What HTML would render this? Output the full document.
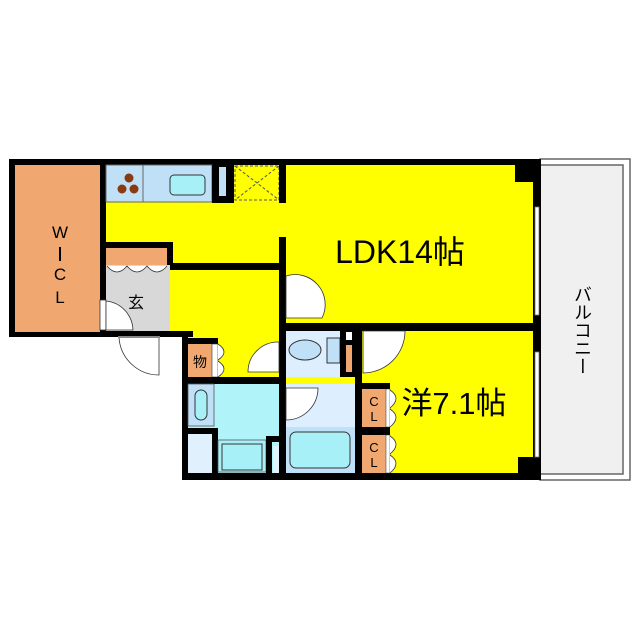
<!DOCTYPE html>
<html><head><meta charset="utf-8"><style>html,body{margin:0;padding:0;background:#fff;width:640px;height:640px;overflow:hidden}</style></head>
<body>
<svg width="640" height="640" viewBox="0 0 640 640" xmlns="http://www.w3.org/2000/svg" font-family="Liberation Sans, Noto Sans CJK JP, sans-serif">
<!-- balcony -->
<rect x="540" y="159" width="90" height="321" fill="#fff" stroke="#666" stroke-width="1.5"/>
<rect x="540" y="165" width="83" height="309" fill="#f0f0f0" stroke="#666" stroke-width="1.5"/>
<text x="582" y="285" font-size="18" fill="#000" style="writing-mode:vertical-rl">バルコニー</text>
<!-- yellow main -->
<rect x="106" y="165" width="430" height="172" fill="#ffff00"/>
<rect x="182" y="330" width="354" height="145" fill="#ffff00"/>
<rect x="9" y="159" width="97" height="178" fill="#000"/>
<!-- outer walls -->
<rect x="100" y="159" width="440" height="6" fill="#000"/>
<rect x="533" y="159" width="8" height="321" fill="#000"/>
<rect x="182" y="473" width="359" height="7" fill="#000"/>
<rect x="182" y="332" width="6" height="148" fill="#000"/>
<rect x="100" y="331" width="93" height="6" fill="#000"/>
<!-- WCL -->
<rect x="15" y="165" width="85" height="167" fill="#f0a870"/>
<text x="60" y="238" font-size="17" text-anchor="middle">W</text>
<rect x="59" y="247" width="2" height="14" fill="#000"/>
<text x="60" y="280" font-size="17" text-anchor="middle">C</text>
<text x="60" y="303" font-size="17" text-anchor="middle">L</text>
<!-- kitchen -->
<rect x="106" y="165" width="106" height="37" fill="#c0e0f8" stroke="#666" stroke-width="1"/>
<line x1="143" y1="165" x2="143" y2="202" stroke="#666"/>
<circle cx="129" cy="178" r="4.5" fill="#8a3a10"/>
<circle cx="122" cy="189" r="4.5" fill="#8a3a10"/>
<circle cx="134" cy="189" r="4.5" fill="#8a3a10"/>
<rect x="170" y="175" width="35" height="20" rx="4" fill="#a8f0f8" stroke="#333"/>
<rect x="212" y="165" width="22" height="38" fill="#000"/>
<rect x="219" y="167" width="7" height="29" fill="#c0e0f8"/>
<rect x="235" y="166" width="44" height="34" fill="none" stroke="#555" stroke-dasharray="3,2"/>
<line x1="235" y1="166" x2="279" y2="200" stroke="#555" stroke-dasharray="3,2"/>
<line x1="279" y1="166" x2="235" y2="200" stroke="#555" stroke-dasharray="3,2"/>
<rect x="279" y="165" width="7" height="38" fill="#000"/>
<rect x="279" y="237" width="7" height="243" fill="#000"/>
<!-- genkan -->
<rect x="106" y="242" width="67" height="6" fill="#000"/>
<rect x="167" y="242" width="6" height="28" fill="#000"/>
<rect x="167" y="263" width="119" height="7" fill="#000"/>
<rect x="106" y="248" width="61" height="17" fill="#f0a870"/>
<rect x="106" y="265" width="64" height="66" fill="#d8d8d8"/>
<path d="M107 266 q10 12 20 0 q10 12 20 0 q10 12 20 0" fill="#fff" stroke="#333" stroke-width="0.8"/>
<text x="136" y="308" font-size="16" text-anchor="middle">玄</text>
<rect x="100" y="300" width="6" height="30" fill="#fff" stroke="#333" stroke-width="0.8"/>
<path d="M106 301 A30 30 0 0 1 133 330 L106 330 Z" fill="#fff" stroke="#333" stroke-width="0.8"/>
<path d="M159 337 L159 375 A40 40 0 0 1 119 337 Z" fill="#fff" stroke="#333" stroke-width="0.8"/>
<line x1="118" y1="337" x2="160" y2="337" stroke="#888" stroke-width="2"/>
<!-- storage -->
<rect x="182" y="338" width="36" height="6" fill="#000"/>
<rect x="188" y="344" width="24" height="33" fill="#f0a870"/>
<text x="200" y="367" font-size="14" text-anchor="middle">物</text>
<rect x="212" y="344" width="6" height="33" fill="#fff" stroke="#333" stroke-width="0.6"/>
<path d="M218 344 q12 8 0 16 M218 361 q12 8 0 16" fill="#fff" stroke="#333" stroke-width="0.8"/>
<path d="M279 342 A30 30 0 0 0 248 372 L279 372 Z" fill="#fff" stroke="#333" stroke-width="0.8"/>
<path d="M286 276 A30 30 0 0 1 322 318 L286 318 Z" fill="#fff" stroke="#333" stroke-width="0.8"/>
<rect x="182" y="377" width="104" height="7" fill="#000"/>
<!-- washroom -->
<rect x="188" y="384" width="91" height="89" fill="#b0f4fa"/>
<rect x="188" y="384" width="26" height="42" fill="#c0e0f8" stroke="#555" stroke-width="0.8"/>
<rect x="195" y="390" width="12" height="30" rx="6" fill="#a8f0f8" stroke="#333"/>
<rect x="188" y="428" width="30" height="6" fill="#000"/>
<rect x="212" y="428" width="6" height="45" fill="#000"/>
<rect x="188" y="434" width="24" height="39" fill="#e0f0fc"/>
<rect x="218" y="440" width="48" height="32" fill="#a8f0f8" stroke="#555" stroke-width="0.8"/>
<rect x="222" y="444" width="40" height="26" fill="none" stroke="#333"/>
<rect x="266" y="436" width="13" height="6" fill="#000"/>
<rect x="266" y="436" width="6" height="37" fill="#000"/>
<rect x="273" y="446" width="6" height="27" fill="#e0f0fc"/>
<!-- toilet -->
<rect x="280" y="323" width="256" height="8" fill="#000"/>
<rect x="286" y="331" width="54" height="46" fill="#ddeeff"/>
<ellipse cx="305" cy="350" rx="16" ry="10" fill="#c0e0f8" stroke="#333"/>
<rect x="327" y="338" width="13" height="25" fill="#c0e0f8" stroke="#333"/>
<rect x="340" y="331" width="15" height="46" fill="#000"/>
<rect x="346" y="332" width="6" height="8" fill="#fff"/>
<rect x="346" y="345" width="6" height="27" fill="#f0a870"/>
<rect x="355" y="327" width="7" height="153" fill="#000"/>
<path d="M363 331 L405 331 A42 42 0 0 1 363 373 Z" fill="#fff" stroke="#333" stroke-width="0.8"/>
<!-- bathroom -->
<rect x="286" y="384" width="69" height="89" fill="#ddeeff"/>
<rect x="286" y="427" width="69" height="46" fill="#c0e0f8"/>
<rect x="290" y="432" width="60" height="36" rx="6" fill="#a8f0f8" stroke="#333"/>
<path d="M286 388 L318 388 A32 32 0 0 1 286 420 Z" fill="#fff" stroke="#333" stroke-width="0.8"/>
<!-- CL -->
<rect x="362" y="383" width="28" height="6" fill="#000"/>
<rect x="362" y="389" width="24" height="38" fill="#f0a870"/>
<rect x="362" y="427" width="28" height="8" fill="#000"/>
<rect x="362" y="435" width="24" height="38" fill="#f0a870"/>
<rect x="386" y="389" width="4" height="38" fill="#fff" stroke="#333" stroke-width="0.5"/>
<rect x="386" y="435" width="4" height="38" fill="#fff" stroke="#333" stroke-width="0.5"/>
<path d="M390 390 q12 8 0 18 M390 409 q12 8 0 18 M390 436 q12 8 0 18 M390 455 q12 8 0 18" fill="#fff" stroke="#333" stroke-width="0.8"/>
<text x="374" y="406" font-size="13" text-anchor="middle">C</text>
<text x="374" y="421" font-size="13" text-anchor="middle">L</text>
<text x="374" y="452" font-size="13" text-anchor="middle">C</text>
<text x="374" y="467" font-size="13" text-anchor="middle">L</text>
<!-- corners and windows -->
<rect x="515" y="165" width="20" height="17" fill="#000"/>
<rect x="518" y="457" width="17" height="17" fill="#000"/>
<rect x="535" y="207" width="4" height="108" fill="#fff" stroke="#777" stroke-width="0.8"/>
<rect x="535" y="352" width="4" height="105" fill="#fff" stroke="#777" stroke-width="0.8"/>
<!-- labels -->
<text x="400" y="263" font-size="32" text-anchor="middle">LDK14帖</text>
<text x="454" y="414" font-size="31" text-anchor="middle">洋7.1帖</text>
</svg>
</body></html>
